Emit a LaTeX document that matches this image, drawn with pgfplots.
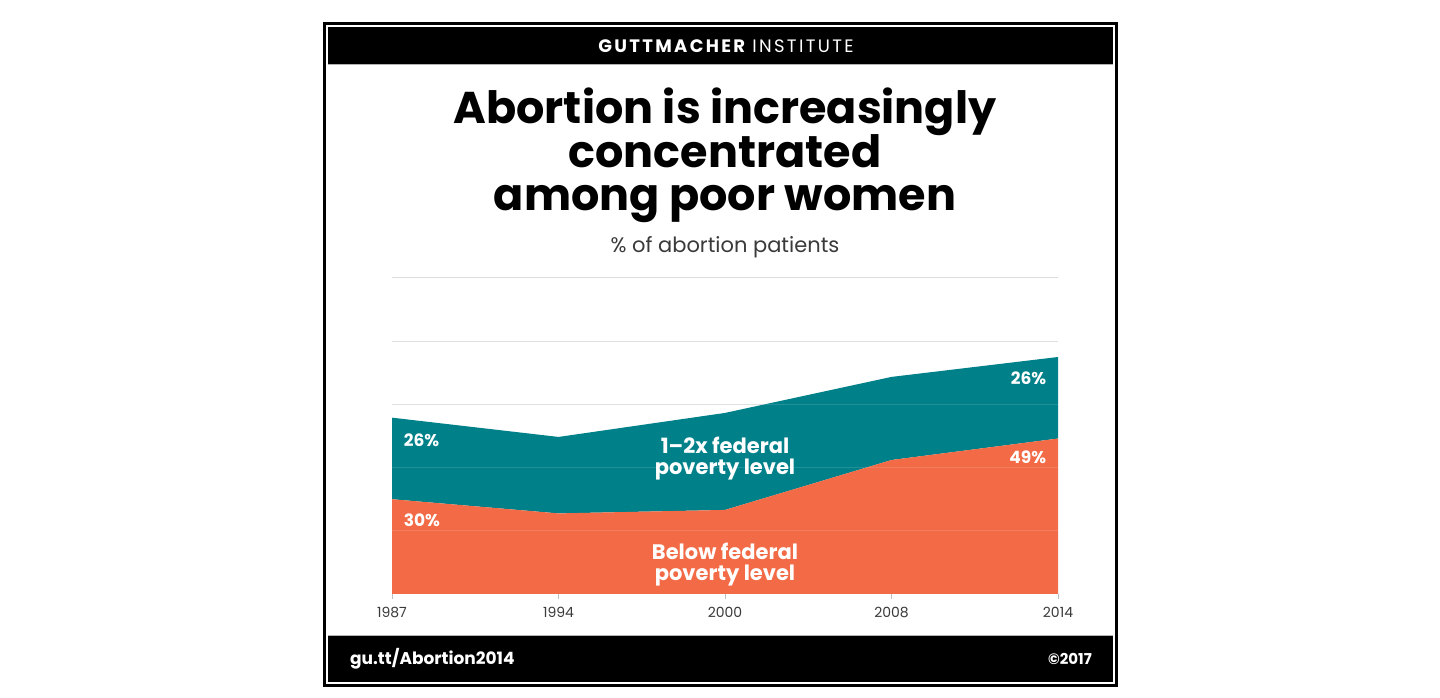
\documentclass[border=0pt]{standalone}
\usepackage{pgfplots}
\pgfplotsset{compat=1.18}
\usepackage{fontspec}
\setmainfont{Poppins}
\definecolor{gteal}{HTML}{00818A}
\definecolor{gorange}{HTML}{F26A46}
\definecolor{gridgray}{HTML}{DCDCDC}
\definecolor{tickgray}{HTML}{3A3A3A}
\begin{document}
\begin{tikzpicture}[x=1pt,y=1pt]
\useasboundingbox (0,0) rectangle (1440,698);
\fill[white] (0,0) rectangle (1440,698);
% frame
\draw[line width=3pt] (324.5,674.5) rectangle (1116.5,12.5);
\fill[black] (328,671) rectangle (1113,634);
\fill[black] (328,62) rectangle (1113,16);
\draw[gray!60,line width=1pt] (328,633.5) -- (1113,633.5);
\draw[gray!60,line width=1pt] (328,62.5) -- (1113,62.5);
% header
\node[anchor=base,text=white,inner sep=0pt] at (726,645) {\fontsize{18}{20}\selectfont\addfontfeature{LetterSpace=13}\bfseries GUTTMACHER\mdseries\ INSTITUTE};
% footer
\node[anchor=base west,text=white,inner sep=0pt] at (350,33) {\fontsize{17}{20}\selectfont\bfseries gu.tt/Abortion2014};
\node[anchor=base east,text=white,inner sep=0pt] at (1092,33) {\fontsize{15}{18}\selectfont\bfseries ©2017};
% title
\node[anchor=base,inner sep=0pt] at (725,574) {\fontsize{44.5}{44}\selectfont\bfseries Abortion is increasingly};
\node[anchor=base,inner sep=0pt] at (725,530) {\fontsize{44.5}{44}\selectfont\bfseries concentrated};
\node[anchor=base,inner sep=0pt] at (725,487) {\fontsize{44.5}{44}\selectfont\bfseries among poor women};
\node[anchor=base,inner sep=0pt,text=tickgray] at (725,445) {\fontsize{21}{22}\selectfont \% of abortion patients};
\begin{axis}[
  at={(392pt,104pt)}, anchor=south west,
  scale only axis, width=666pt, height=316pt,
  xmin=0, xmax=4, ymin=0, ymax=100,
  axis lines*=left, axis line style={draw=none},
  xtick={0,1,2,3,4},
  xticklabels={1987,1994,2000,2008,2014},
  ytick={0,20,40,60,80,100}, yticklabels={},
  y tick style={draw=none},
  x tick style={draw=gray!50, line width=0.8pt},
  tick align=outside, major tick length=5pt,
  xticklabel style={font=\fontsize{14}{16}\selectfont, text=tickgray, yshift=-5pt},
  /pgf/number format/assume math mode=true,
  ymajorgrids, major grid style={draw=gridgray, line width=1pt},
  stack plots=y,
  clip=false,
]
\addplot[fill=gorange, draw=none] coordinates {(0,30) (1,25.5) (2,26.6) (3,42.4) (4,49.2)} \closedcycle;
\addplot[fill=gteal, draw=none] coordinates {(0,25.8) (1,24.2) (2,30.7) (3,26.3) (4,25.8)} \closedcycle;
\end{axis}
\begin{axis}[
  at={(392pt,104pt)}, anchor=south west,
  scale only axis, width=666pt, height=316pt,
  xmin=0, xmax=4, ymin=0, ymax=100,
  hide axis, clip=false,
]
\pgfplotsinvokeforeach{20,40,60,80}{\draw[white,opacity=0.12,line width=1pt] (axis cs:0,#1) -- (axis cs:4,#1);}
\node[anchor=west,text=white,inner sep=0pt,font=\fontsize{17}{20}\selectfont\bfseries] at (axis cs:0.07,48.7) {26\%};
\node[anchor=west,text=white,inner sep=0pt,font=\fontsize{17}{20}\selectfont\bfseries] at (axis cs:0.07,23.4) {30\%};
\node[anchor=east,text=white,inner sep=0pt,font=\fontsize{17}{20}\selectfont\bfseries] at (axis cs:3.93,68.4) {26\%};
\node[anchor=east,text=white,inner sep=0pt,font=\fontsize{17}{20}\selectfont\bfseries] at (axis cs:3.93,43.4) {49\%};
\node[text=white,inner sep=0pt,align=center,font=\fontsize{21}{21}\selectfont\bfseries] at (axis cs:2,42.9) {1–2x federal\\poverty level};
\node[text=white,inner sep=0pt,align=center,font=\fontsize{21}{21}\selectfont\bfseries] at (axis cs:2,9.3) {Below federal\\poverty level};
\end{axis}
\end{tikzpicture}
\end{document}
